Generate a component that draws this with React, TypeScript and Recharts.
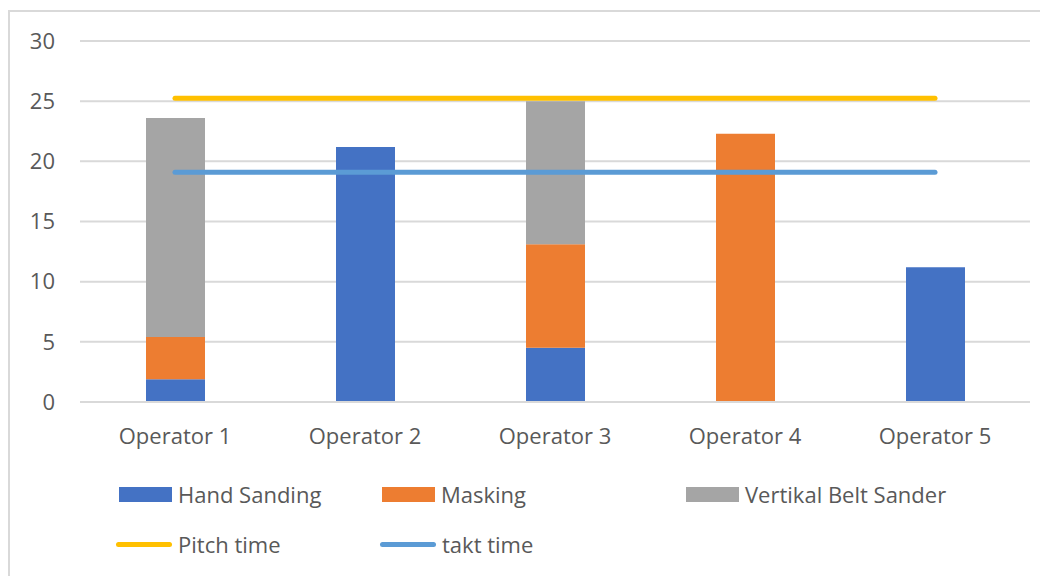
import React from "react";
import {
  ComposedChart,
  Bar,
  Line,
  XAxis,
  YAxis,
  CartesianGrid
} from "recharts";

const operators = ["Operator 1", "Operator 2", "Operator 3", "Operator 4", "Operator 5"];
const handSanding = [1.9, 21.2, 4.5, 0, 11.2];
const masking = [3.5, 0, 8.6, 22.3, 0];
const beltSander = [18.2, 0, 11.9, 0, 0];
const pitchTime = [25.25, 25.25, 25.25, 25.25, 25.25];
const taktTime = [19.1, 19.1, 19.1, 19.1, 19.1];
const yTicks = [0, 5, 10, 15, 20, 25, 30];

const data = operators.map((name, i) => ({
  name,
  hand: handSanding[i],
  masking: masking[i],
  belt: beltSander[i],
  pitch: pitchTime[i],
  takt: taktTime[i]
}));

const FONT = "'Open Sans', sans-serif";
const TEXT = "#595959";

const legendItems = [
  { label: "Hand Sanding", color: "#4472C4", kind: "box", left: 109, top: 474 },
  { label: "Masking", color: "#ED7D31", kind: "box", left: 372, top: 474 },
  { label: "Vertikal Belt Sander", color: "#A5A5A5", kind: "box", left: 676, top: 474 },
  { label: "Pitch time", color: "#FFC000", kind: "line", left: 106, top: 524 },
  { label: "takt time", color: "#5B9BD5", kind: "line", left: 370, top: 524 }
];

export default function App() {
  return (
    <div
      style={{
        marginTop: 2,
        width: 1038,
        height: 564,
        borderTop: "2px solid #d9d9d9",
        borderLeft: "2px solid #d9d9d9",
        position: "relative",
        fontFamily: FONT,
        background: "#fff"
      }}
    >
      <ComposedChart
        width={1036}
        height={460}
        data={data}
        margin={{ top: 29, right: 16, left: 20, bottom: 0 }}
        barCategoryGap="34%"
      >
        <CartesianGrid vertical={false} stroke="#d9d9d9" strokeWidth={2} />
        <XAxis
          dataKey="name"
          tickLine={false}
          axisLine={{ stroke: "#d9d9d9", strokeWidth: 2 }}
          tick={{ fill: TEXT, fontSize: 22, fontFamily: FONT }}
          tickMargin={20}
          height={70}
        />
        <YAxis
          width={50}
          domain={[0, 30]}
          ticks={yTicks}
          tickLine={false}
          axisLine={false}
          tickSize={0}
          tickMargin={25}
          tick={{ fill: TEXT, fontSize: 22, fontFamily: FONT }}
        />
        <Bar dataKey="hand" stackId="a" fill="#4472C4" barSize={59} isAnimationActive={false} />
        <Bar dataKey="masking" stackId="a" fill="#ED7D31" barSize={59} isAnimationActive={false} />
        <Bar dataKey="belt" stackId="a" fill="#A5A5A5" barSize={59} isAnimationActive={false} />
        <Line
          dataKey="pitch"
          type="linear"
          stroke="#FFC000"
          strokeWidth={5}
          strokeLinecap="round"
          dot={false}
          isAnimationActive={false}
        />
        <Line
          dataKey="takt"
          type="linear"
          stroke="#5B9BD5"
          strokeWidth={5}
          strokeLinecap="round"
          dot={false}
          isAnimationActive={false}
        />
      </ComposedChart>
      {legendItems.map((item) => (
        <div
          key={item.label}
          style={{
            position: "absolute",
            left: item.left,
            top: item.top,
            height: 16,
            display: "flex",
            alignItems: "center",
            color: TEXT,
            fontSize: 22,
            whiteSpace: "nowrap"
          }}
        >
          {item.kind === "box" ? (
            <span
              style={{ display: "inline-block", width: 53, height: 15, background: item.color, marginRight: 6 }}
            />
          ) : (
            <span
              style={{ display: "inline-block", width: 56, height: 5, borderRadius: 3, background: item.color, marginRight: 6 }}
            />
          )}
          <span>{item.label}</span>
        </div>
      ))}
    </div>
  );
}
